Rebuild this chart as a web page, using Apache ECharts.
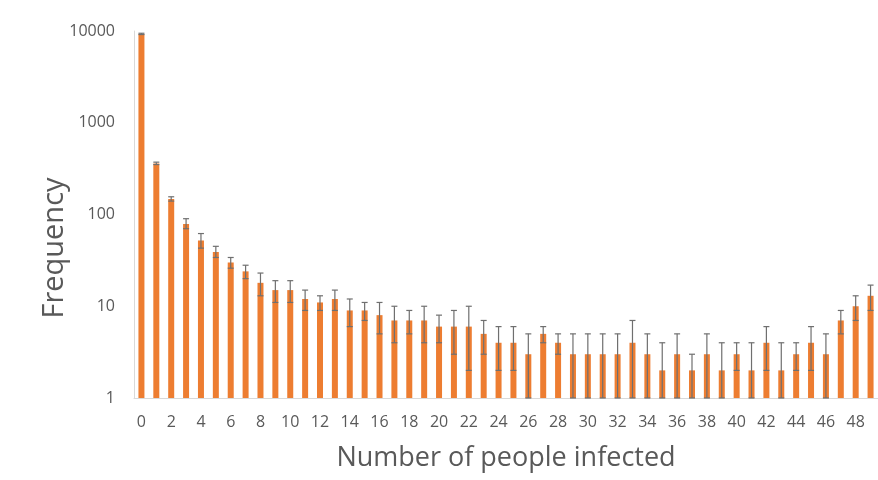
<!DOCTYPE html>
<html>
<head>
<meta charset="utf-8">
<script src="https://cdn.jsdelivr.net/npm/echarts@6/dist/echarts.min.js"></script>
<style>
  html, body { margin: 0; padding: 0; background: #fff; }
  #chart { width: 878px; height: 480px; }
</style>
</head>
<body>
<div id="chart"></div>
<script>
// number of people infected (0..49)
var categories = [];
for (var i = 0; i < 50; i++) categories.push(String(i));

// frequency per category
var frequency = [9300, 360, 148, 79, 52, 39, 30, 24, 18, 15,
                 15, 12, 11, 12, 9, 9, 8, 7, 7, 7,
                 6, 6, 6, 5, 4, 4, 3, 5, 4, 3,
                 3, 3, 3, 4, 3, 2, 3, 2, 3, 2,
                 3, 2, 4, 2, 3, 4, 3, 7, 10, 13];
// error bar upper / lower ends
var errHigh = [9450, 372, 156, 90, 62, 45, 34, 28, 23, 19,
               19, 15, 13, 15, 12, 11, 11, 10, 9, 10,
               8, 9, 10, 7, 6, 6, 5, 6, 5, 5,
               5, 5, 5, 7, 5, 4, 5, 3, 5, 4,
               4, 4, 6, 4, 4, 6, 5, 9, 13, 17];
var errLow = [9150, 350, 140, 70, 43, 34, 26, 20, 13, 11,
              11, 9, 9, 9, 6, 7, 5, 4, 5, 4,
              4, 3, 2, 3, 2, 2, 1, 4, 3, 1,
              1, 1, 1, 1, 1, 1, 1, 1, 1, 1,
              2, 1, 2, 1, 2, 2, 1, 5, 7, 9];

var errData = [];
for (var k = 0; k < categories.length; k++) {
  errData.push([k, errLow[k], errHigh[k]]);
}

var myChart = echarts.init(document.getElementById('chart'));
var option = {
  animation: false,
  grid: { left: 134, right: 0, top: 31, bottom: 82 },
  xAxis: {
    type: 'category',
    data: categories,
    axisLine: { lineStyle: { color: '#d9d9d9' } },
    axisTick: { show: false },
    axisLabel: {
      interval: 1,
      color: '#595959',
      fontFamily: 'Open Sans',
      fontSize: 16,
      margin: 16
    }
  },
  yAxis: {
    type: 'log',
    logBase: 10,
    min: 1,
    max: 10000,
    axisLine: { show: true, lineStyle: { color: '#d9d9d9' } },
    axisTick: { show: false },
    splitLine: { show: false },
    axisLabel: {
      color: '#595959',
      fontFamily: 'Open Sans',
      fontSize: 16,
      margin: 19,
      formatter: function (v) { return String(Math.round(v)); }
    }
  },
  graphic: [
    {
      type: 'text',
      x: 506,
      y: 458,
      style: {
        text: 'Number of people infected',
        fill: '#595959',
        font: '27px "Open Sans"',
        align: 'center',
        verticalAlign: 'middle'
      }
    },
    {
      type: 'text',
      x: 55,
      y: 248,
      rotation: Math.PI / 2,
      style: {
        text: 'Frequency',
        fill: '#595959',
        font: '29px "Open Sans"',
        align: 'center',
        verticalAlign: 'middle'
      }
    }
  ],
  series: [
    {
      type: 'bar',
      data: frequency,
      barWidth: 6,
      itemStyle: { color: '#ED7D31' }
    },
    {
      type: 'custom',
      data: errData,
      z: 10,
      renderItem: function (params, api) {
        var x = api.value(0);
        var lo = api.coord([x, api.value(1)]);
        var hi = api.coord([x, api.value(2)]);
        var cap = 3;
        var st = { stroke: '#6f6f6f', lineWidth: 1.2 };
        return {
          type: 'group',
          children: [
            { type: 'line', shape: { x1: hi[0], y1: hi[1], x2: lo[0], y2: lo[1] }, style: st },
            { type: 'line', shape: { x1: hi[0] - cap, y1: hi[1], x2: hi[0] + cap, y2: hi[1] }, style: st },
            { type: 'line', shape: { x1: lo[0] - cap, y1: lo[1], x2: lo[0] + cap, y2: lo[1] }, style: st }
          ]
        };
      }
    }
  ]
};
myChart.setOption(option);
</script>
</body>
</html>
